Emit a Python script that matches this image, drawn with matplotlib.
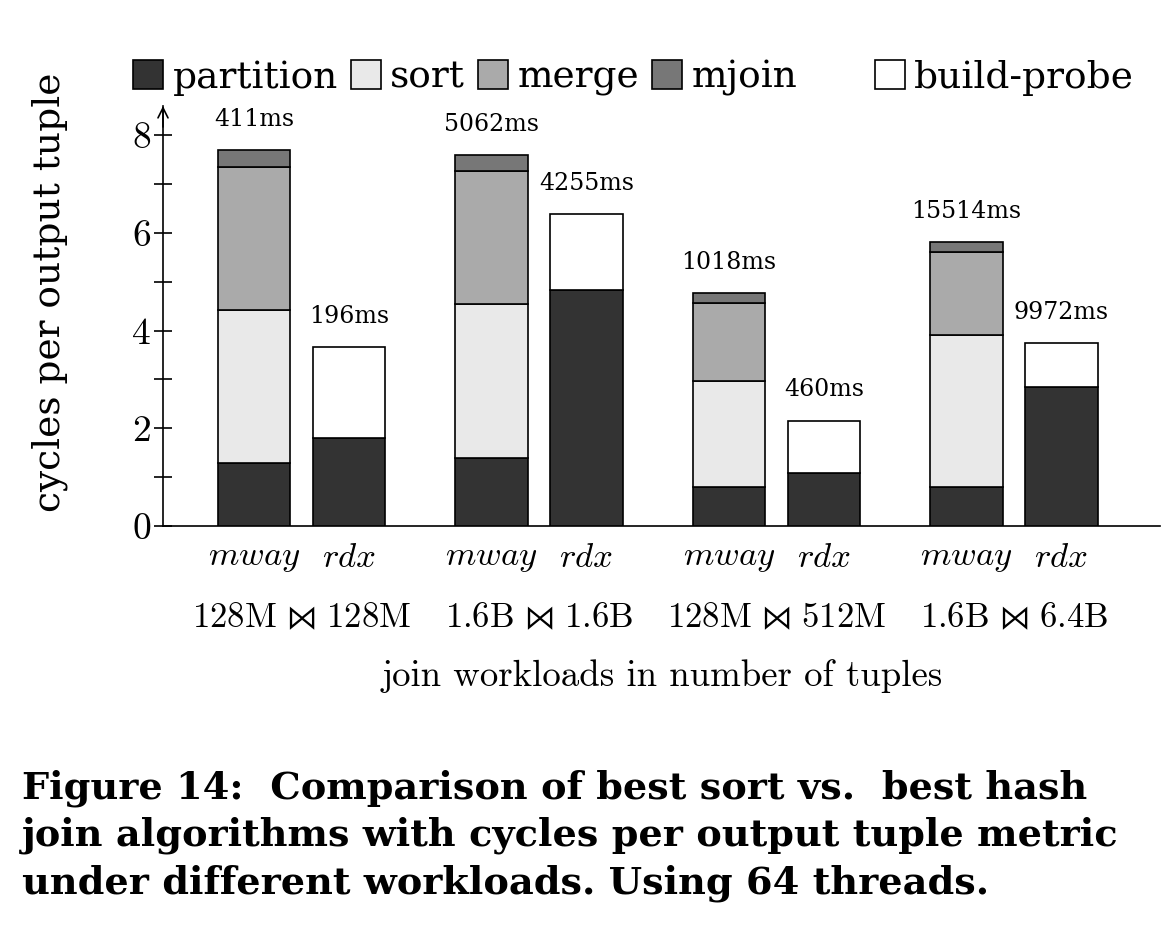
import matplotlib
matplotlib.use("Agg")
import matplotlib.pyplot as plt
from matplotlib.patches import Patch
import numpy as np

# cycles per output tuple
workloads = [r'$\mathrm{128M}\,{\bowtie}\,\mathrm{128M}$', r'$\mathrm{1.6B}\,{\bowtie}\,\mathrm{1.6B}$',
             r'$\mathrm{128M}\,{\bowtie}\,\mathrm{512M}$', r'$\mathrm{1.6B}\,{\bowtie}\,\mathrm{6.4B}$']
algos = [r'$mway$', r'$rdx$']

mway_partition = [1.30, 1.40, 0.79, 0.79]
mway_sort = [3.13, 3.15, 2.17, 3.13]
mway_merge = [2.93, 2.71, 1.61, 1.70]
mway_mjoin = [0.34, 0.33, 0.20, 0.20]

rdx_partition = [1.80, 4.83, 1.08, 2.84]
rdx_buildprobe = [1.87, 1.55, 1.08, 0.90]

mway_time = ['411ms', '5062ms', '1018ms', '15514ms']
rdx_time = ['196ms', '4255ms', '460ms', '9972ms']

caption = ["Figure 14:  Comparison of best sort vs.  best hash",
           "join algorithms with cycles per output tuple metric",
           "under different workloads. Using 64 threads."]

colors = {'partition': '#333333', 'sort': '#e9e9e9', 'merge': '#aaaaaa',
          'mjoin': '#777777', 'build-probe': '#ffffff'}

plt.rcParams['mathtext.fontset'] = 'cm'
serif = 'DejaVu Serif'

W, H = 1162, 938
fig = plt.figure(figsize=(W / 100, H / 100), dpi=100)
ax = fig.add_axes([163 / W, 1 - 526 / H, (1160 - 163) / W, (526 - 106) / H])

group_x = np.arange(4) * 2.5
mway_x = group_x
rdx_x = group_x + 1
width = 0.76
kw = dict(width=width, edgecolor='black', linewidth=1.2, zorder=3)

bottom = np.zeros(4)
for name, vals in [('partition', mway_partition), ('sort', mway_sort),
                   ('merge', mway_merge), ('mjoin', mway_mjoin)]:
    ax.bar(mway_x, vals, bottom=bottom, color=colors[name], **kw)
    bottom = bottom + np.array(vals)
mway_top = bottom

bottom = np.zeros(4)
for name, vals in [('partition', rdx_partition), ('build-probe', rdx_buildprobe)]:
    ax.bar(rdx_x, vals, bottom=bottom, color=colors[name], **kw)
    bottom = bottom + np.array(vals)
rdx_top = bottom

for xs, tops, labels in [(mway_x, mway_top, mway_time), (rdx_x, rdx_top, rdx_time)]:
    for x, t, lab in zip(xs, tops, labels):
        ax.annotate(lab, (x, t), xytext=(0, 22), textcoords='offset points',
                    ha='center', va='center', fontsize=17, family=serif)

ax.set_xlim(-0.958, 9.537)
ax.set_ylim(0, 8.6)
ax.spines['top'].set_visible(False)
ax.spines['right'].set_visible(False)
ax.spines['left'].set_linewidth(1.2)
ax.spines['bottom'].set_linewidth(1.2)
ax.annotate('', xy=(0, 1.0), xytext=(0, 0.95), xycoords='axes fraction',
            arrowprops=dict(arrowstyle='->', lw=1.2, color='black',
                            shrinkA=0, shrinkB=0, mutation_scale=18))

ax.set_yticks([0, 2, 4, 6, 8])
ax.set_yticks([1, 3, 5, 7], minor=True)
ax.tick_params(axis='y', which='both', direction='inout', length=13, width=1.2)
ax.tick_params(axis='y', labelsize=27, pad=2)
for t in ax.get_yticklabels():
    t.set_family('cmr10')

ticks_x = np.sort(np.concatenate([mway_x, rdx_x]))
ax.set_xticks(ticks_x)
ax.set_xticklabels(algos * 4, fontsize=25)
ax.tick_params(axis='x', length=0, pad=10)

for gx, lab in zip(group_x + 0.5, workloads):
    ax.text(gx, -0.217, lab, transform=ax.get_xaxis_transform(),
            ha='center', va='center', fontsize=25)
ax.text(4.3, -0.357, 'join workloads in number of tuples', transform=ax.get_xaxis_transform(),
        ha='center', va='center', fontsize=26.5, family='cmr10')

ax.set_ylabel('cycles per output tuple', fontsize=27, family=serif)
ax.yaxis.set_label_coords(-0.095, 0.557)

handles = [Patch(facecolor=colors[n], edgecolor='black', linewidth=1.2)
           for n in ['partition', 'sort', 'merge', 'mjoin']]
handles.append(Patch(facecolor='none', edgecolor='none'))
handles.append(Patch(facecolor=colors['build-probe'], edgecolor='black', linewidth=1.2))
labels = ['partition', 'sort', 'merge', 'mjoin', ' ', 'build-probe']
fig.legend(handles, labels, loc='center left', bbox_to_anchor=(133 / W, 1 - 78 / H),
           ncol=6, frameon=False, prop={'family': serif, 'size': 27},
           handlelength=0.8, handleheight=0.8, handletextpad=0.25,
           columnspacing=0.35, borderpad=0, borderaxespad=0)

for i, line in enumerate(caption):
    fig.text(22 / W, 1 - (788 + 47.5 * i) / H, line, ha='left', va='center',
             fontsize=27.5, fontweight='bold', family=serif)

fig.savefig('out.png', dpi=100)
